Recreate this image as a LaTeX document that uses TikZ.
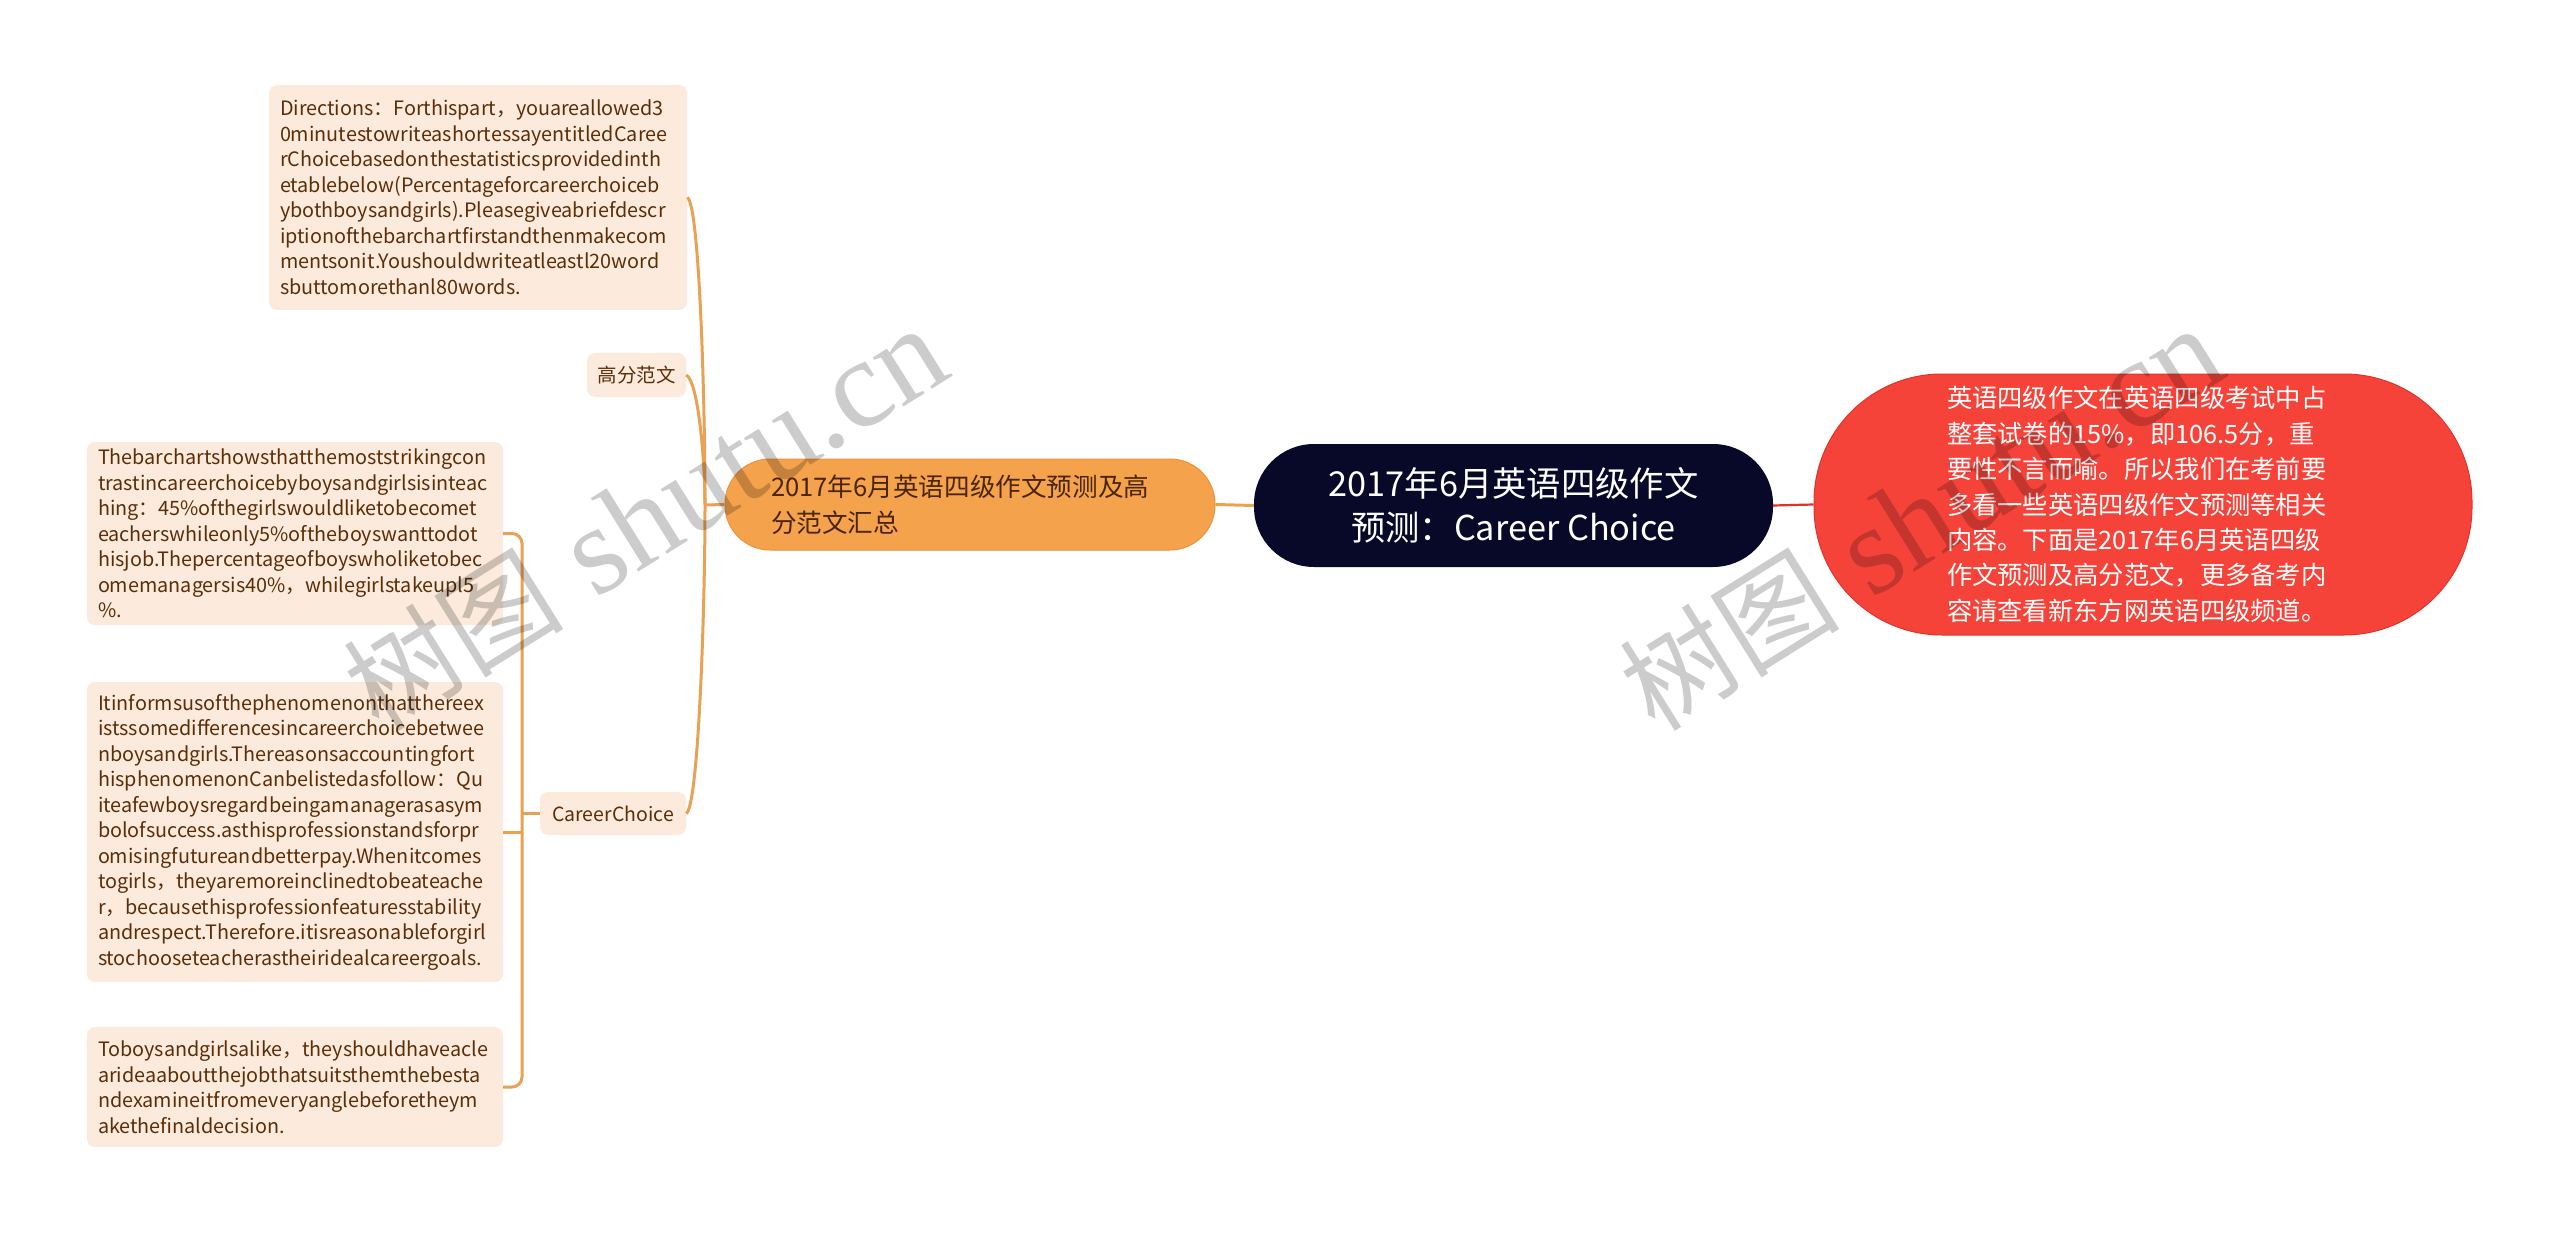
\documentclass[tikz,border=0pt]{standalone}
\usepackage{fontspec}
\newfontfamily\cjk{Noto Sans CJK SC}
\newfontfamily\wmfont{Liberation Serif}
\definecolor{peach}{RGB}{252,235,221}
\definecolor{brownT}{RGB}{92,46,8}
\definecolor{lineO}{RGB}{233,162,84}
\definecolor{mainO}{RGB}{245,162,77}
\definecolor{mainOb}{RGB}{236,146,60}
\definecolor{rootN}{RGB}{8,8,40}
\definecolor{redN}{RGB}{246,67,58}
\definecolor{redB}{RGB}{222,52,45}
\begin{document}
\begin{tikzpicture}[x=1pt,y=-1pt,
  leafbox/.style={fill=peach, rounded corners=8pt, text=brownT, align=left, inner sep=0pt,
    font=\cjk\fontsize{19.8}{25.5}\selectfont},
  labelbox/.style={fill=peach, rounded corners=8pt, text=brownT, align=center, inner sep=0pt,
    font=\cjk\fontsize{19.5}{25.5}\selectfont},
  conn/.style={draw=lineO, line width=3pt},
  redline/.style={draw=redB, line width=2.2pt},
  wmark/.style={text=black, text opacity=0.2, rotate=32, inner sep=0pt}
]
\useasboundingbox[fill=white] (0,0) rectangle (2560,1233);

% leaves
\node[leafbox, minimum width=418pt, minimum height=225pt, text width=396pt] (dir) at (478,197.5)
{Directions：Forthispart，youareallowed3\\0minutestowriteashortessayentitledCaree\\rChoicebasedonthestatisticsprovidedinth\\etablebelow(Percentageforcareerchoiceb\\ybothboysandgirls).Pleasegiveabriefdescr\\iptionofthebarchartfirstandthenmakecom\\mentsonit.Youshouldwriteatleastl20word\\sbuttomorethanl80words.};

\node[leafbox, minimum width=416pt, minimum height=183pt, text width=394pt] (bar) at (295,533.5)
{Thebarchartshowsthatthemoststrikingcon\\trastincareerchoicebyboysandgirlsisinteac\\hing：45\%ofthegirlswouldliketobecomet\\eacherswhileonly5\%oftheboyswanttodot\\hisjob.Thepercentageofboyswholiketobec\\omemanagersis40\%，whilegirlstakeupl5\\\%.};

\node[leafbox, minimum width=416pt, minimum height=300pt, text width=394pt] (it) at (295,832)
{Itinformsusofthephenomenonthatthereex\\istssomedifferencesincareerchoicebetwee\\nboysandgirls.Thereasonsaccountingfort\\hisphenomenonCanbelistedasfollow：Qu\\iteafewboysregardbeingamanagerasasym\\bolofsuccess.asthisprofessionstandsforpr\\omisingfutureandbetterpay.Whenitcomes\\togirls，theyaremoreinclinedtobeateache\\r，becausethisprofessionfeaturesstability\\andrespect.Therefore.itisreasonableforgirl\\stochooseteacherastheiridealcareergoals.};

\node[leafbox, minimum width=416pt, minimum height=120pt, text width=394pt] (tb) at (295,1087)
{Toboysandgirlsalike，theyshouldhaveacle\\arideaaboutthejobthatsuitsthemthebesta\\ndexamineitfromeveryanglebeforetheym\\akethefinaldecision.};

% second level labels
\node[labelbox, minimum width=99pt, minimum height=44pt] (gf) at (636.5,375) {高分范文};
\node[labelbox, minimum width=146pt, minimum height=43pt] (cc) at (613,813.5) {CareerChoice};

% main orange
\node[fill=mainO, draw=mainOb, line width=1pt, rounded corners=45pt, minimum width=490pt, minimum height=91pt,
  inner sep=0pt, text width=398pt, align=left, text=brownT!80!black,
  font=\cjk\fontsize{25.6}{36}\selectfont] (mo) at (970,504.5)
{2017年6月英语四级作文预测及高\\分范文汇总};

% root
\node[fill=rootN, rounded corners=60pt, minimum width=519pt, minimum height=123pt, inner sep=0pt,
  align=center, text=white, font=\cjk\fontsize{34.3}{44}\selectfont] (root) at (1513.5,505.5)
{2017年6月英语四级作文\\预测：Career Choice};

% red
\node[fill=redN, draw=redB, line width=1pt, rounded corners=128pt, minimum width=658pt, minimum height=261pt,
  inner sep=0pt, text width=392pt, align=left, text=white, font=\cjk\fontsize{25.3}{35.4}\selectfont] (red) at (2143,504.5)
{英语四级作文在英语四级考试中占\\整套试卷的15\%，即106.5分，重\\要性不言而喻。所以我们在考前要\\多看一些英语四级作文预测等相关\\内容。下面是2017年6月英语四级\\作文预测及高分范文，更多备考内\\容请查看新东方网英语四级频道。};

% connectors
\coordinate (j1) at (705,505);
\draw[conn] (mo.west) -- (j1);
\draw[conn] (dir.east) .. controls +(12,5) and +(0,-110) .. (j1);
\draw[conn] (gf.east) .. controls +(12,6) and +(0,-45) .. (j1);
\draw[conn] (cc.east) .. controls +(12,-6) and +(0,110) .. (j1);
\draw[conn] (root.west) -- (mo.east);
\draw[redline] (root.east) -- (red.west);

\coordinate (j2) at (522,813.5);
\draw[conn] (cc.west) -- (j2);
\draw[conn, rounded corners=10pt] (bar.east) -| (j2) |- (tb.east);
\draw[conn] (it.east) -- (it.east -| j2);

% watermarks
\node[wmark] (wm1) at (645,519) {{\cjk\fontsize{110}{110}\selectfont 树图}\hspace{34pt}{\wmfont\fontsize{126}{126}\selectfont shutu.cn}};
\node[wmark] (wm2) at (1921,519) {{\cjk\fontsize{110}{110}\selectfont 树图}\hspace{34pt}{\wmfont\fontsize{126}{126}\selectfont shutu.cn}};
\end{tikzpicture}
\end{document}
